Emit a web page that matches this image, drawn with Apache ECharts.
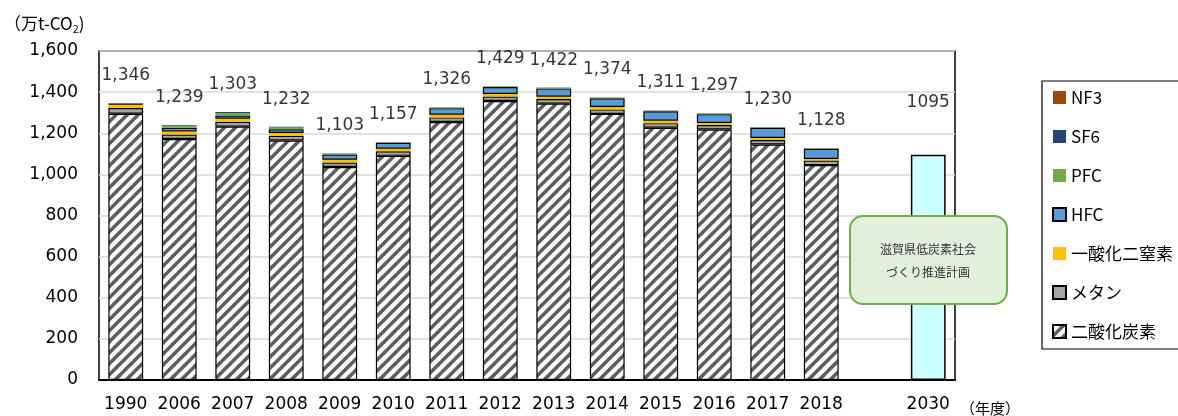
<!DOCTYPE html>
<html><head><meta charset="utf-8">
<script src="https://cdn.jsdelivr.net/npm/echarts@6/dist/echarts.min.js"></script>
<style>html,body{margin:0;padding:0;background:#fff}#c{width:1178px;height:416px}</style>
</head><body><div id="c"></div>
<script>
const categories = ['1990','2006','2007','2008','2009','2010','2011','2012','2013','2014','2015','2016','2017','2018','','2030'];
const co2 = [1295,1172,1232,1165,1036,1090,1255,1357,1344,1294,1227,1218,1145,1045,null,null];
const ch4 = [28,22,24,22,22,22,22,22,22,22,22,22,22,22,null,null];
const n2o = [18,15,15,14,13,13,13,12,12,12,12,10,10,8,null,null];
const hfc = [2,18,15,18,26,28,32,34,40,42,46,43,49,49,null,null];
const pfc = [2,8,12,9,4,3,3,3,3,3,3,3,3,3,null,null];
const sf6 = [1,4,5,4,2,1,1,1,1,1,1,1,1,1,null,null];
const nf3 = [0,0,0,0,0,0,0,0,0,0,0,0,0,0,null,null];
const plan = [null,null,null,null,null,null,null,null,null,null,null,null,null,null,null,1095];
const totals = [1346,1239,1303,1232,1103,1157,1326,1429,1422,1374,1311,1297,1230,1128,null,1095];
const totalLabels = ['1,346','1,239','1,303','1,232','1,103','1,157','1,326','1,429','1,422','1,374','1,311','1,297','1,230','1,128','','1095'];
const yTicks = [0,200,400,600,800,1000,1200,1400,1600];
const legendNames = ['NF3','SF6','PFC','HFC','一酸化二窒素','メタン','二酸化炭素'];

// hatch pattern
const P = 11;
const pc = document.createElement('canvas');
pc.width = P; pc.height = P;
const g = pc.getContext('2d');
g.fillStyle = '#ffffff'; g.fillRect(0,0,P,P);
g.strokeStyle = '#5e5e5e'; g.lineWidth = 3.6;
for (const o of [-P,0,P]) { g.beginPath(); g.moveTo(o-1,P+1); g.lineTo(o+P+1,-1); g.stroke(); }

const FONT = '"DejaVu Sans", Verdana, sans-serif';
const JP = '"Noto Sans CJK JP", sans-serif';
const chart = echarts.init(document.getElementById('c'), null, {renderer:'canvas'});

function barSeries(name, data, color, border) {
  return {
    name, type:'bar', stack:'a', data, barWidth:'65%',
    itemStyle: Object.assign({color}, border ? {borderColor:'#000', borderWidth:1.2} : {borderWidth:0})
  };
}

chart.setOption({
  animation:false,
  grid:{left:99, right:223, top:51, bottom:36, show:true, borderColor:'#000', borderWidth:1.5, backgroundColor:'transparent'},
  xAxis:{type:'category', data:categories,
    axisLine:{lineStyle:{color:'#000', width:2}}, axisTick:{show:false},
    axisLabel:{color:'#000', fontSize:17, fontFamily:FONT, margin:16, interval:0}},
  yAxis:{type:'value', min:yTicks[0], max:yTicks[yTicks.length-1], interval:200,
    axisLine:{show:false}, axisTick:{show:false},
    splitLine:{lineStyle:{color:'#d9d9d9', width:1.5}},
    axisLabel:{color:'#000', fontSize:17, fontFamily:FONT, margin:21,
      formatter:v=>v.toLocaleString('en-US')}},
  legend:{orient:'vertical', left:1052, top:89, padding:0, itemWidth:13, itemHeight:13, itemGap:22,
    icon:'rect', data:legendNames,
    textStyle:{color:'#000', fontSize:17, fontFamily:JP}},
  series:[
    barSeries('二酸化炭素', co2, {image:pc, repeat:'repeat'}, true),
    barSeries('メタン', ch4, '#a5a5a5', true),
    barSeries('一酸化二窒素', n2o, '#ffc000', false),
    barSeries('HFC', hfc, '#5b9bd5', true),
    barSeries('PFC', pfc, '#70ad47', false),
    barSeries('SF6', sf6, '#264478', false),
    barSeries('NF3', nf3, '#9e480e', false),
    {name:'計画', type:'bar', stack:'a', data:plan, barWidth:'65%',
      itemStyle:{color:'#ccffff', borderColor:'#000', borderWidth:1.5}},
    {name:'total', type:'scatter', symbolSize:0, silent:true,
      data: totals.map((v,i)=> i===15 ? {value:v, label:{distance:44}} : v),
      label:{show:true, position:'top', distance:19, color:'#000', fontSize:17, fontFamily:FONT,
        formatter:p=>totalLabels[p.dataIndex]}}
  ],
  graphic:[
    {type:'rect', z:1, shape:{x:1042, y:81, width:160, height:268}, style:{fill:'none', stroke:'#000', lineWidth:1.2}},
    {type:'rect', z:100, shape:{x:850, y:216, width:157, height:88, r:13}, style:{fill:'#e2efda', stroke:'#70ad47', lineWidth:2}},
    {type:'text', z:101, x:928, y:249, style:{text:'滋賀県低炭素社会', fill:'#333', font:'12px '+JP, align:'center', verticalAlign:'middle'}},
    {type:'text', z:101, x:928, y:272, style:{text:'づくり推進計画', fill:'#333', font:'12px '+JP, align:'center', verticalAlign:'middle'}},
    {type:'text', z:101, x:4, y:24, style:{text:'{a|（万t-CO}{s|2}{a|)}', verticalAlign:'middle',
      rich:{a:{fontSize:17, fontFamily:JP, fill:'#000'}, s:{fontSize:11, fontFamily:JP, fill:'#000', padding:[10,0,0,0]}}}},
    {type:'text', z:101, x:960, y:408, style:{text:'（年度）', fill:'#000', font:'15px '+JP, verticalAlign:'middle'}}
  ]
});
</script></body></html>
